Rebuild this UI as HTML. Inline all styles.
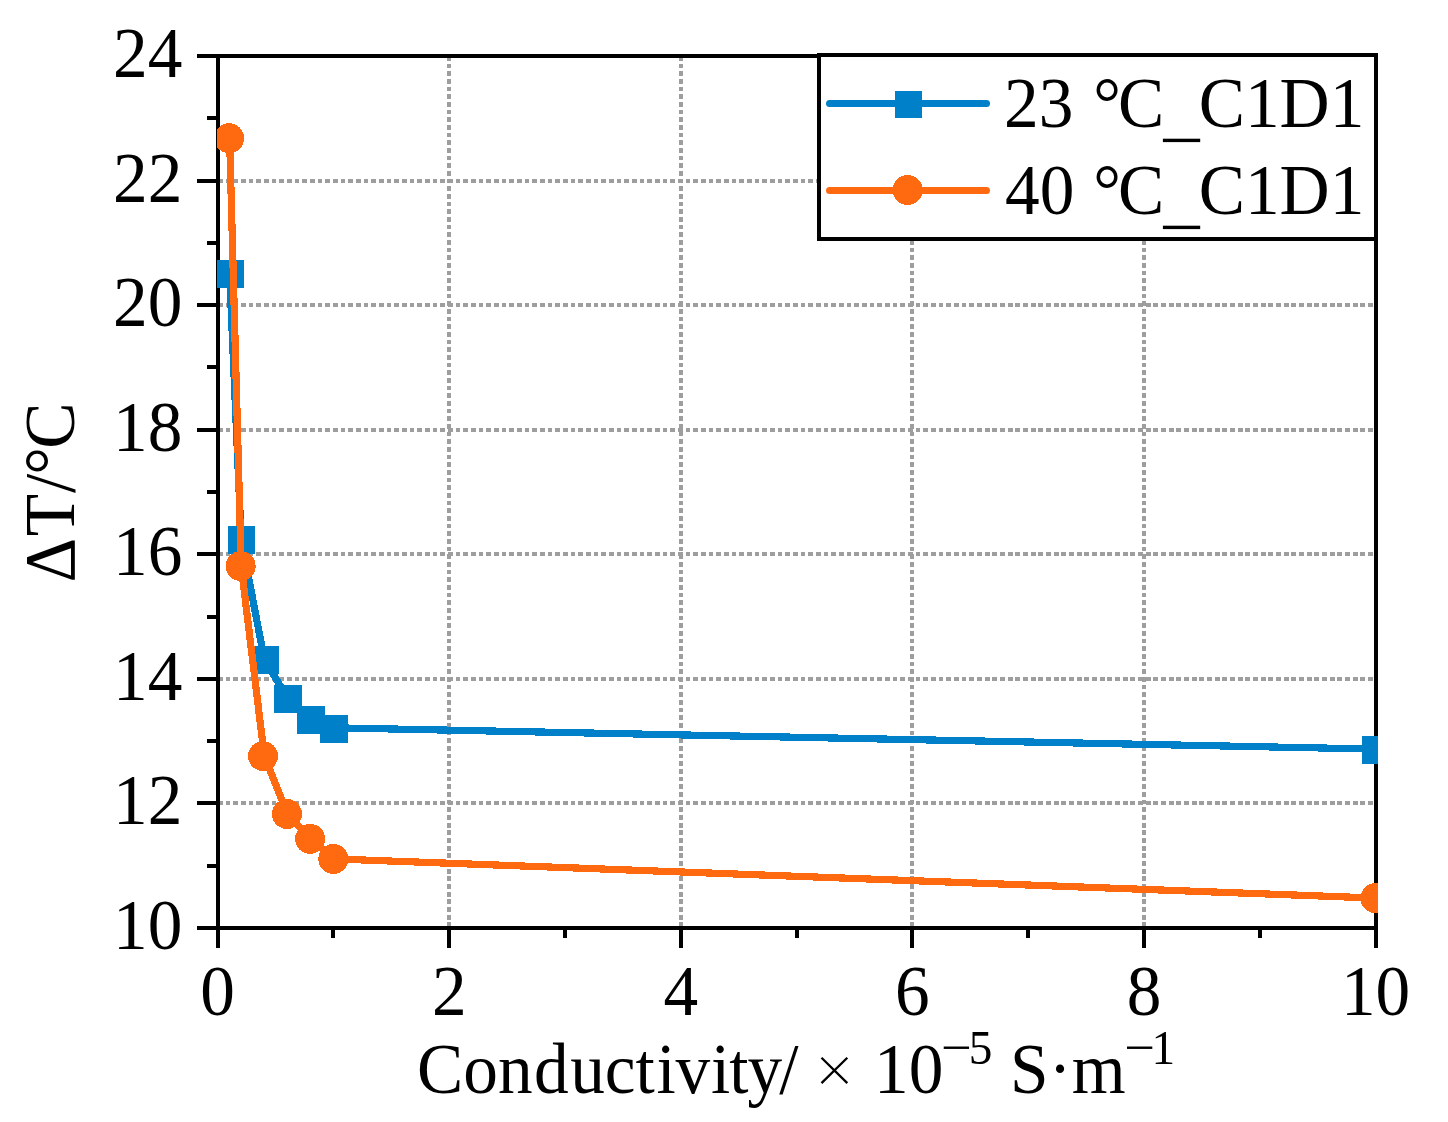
<!DOCTYPE html>
<html><head><meta charset="utf-8"><title>chart</title><style>html,body{margin:0;padding:0;background:#fff;}svg{display:block;}text{font-family:"Liberation Serif",serif;fill:#000;}</style></head><body>
<svg width="1448" height="1122" viewBox="0 0 1448 1122">
<rect x="0" y="0" width="1448" height="1122" fill="#fff"/>
<defs><clipPath id="pc"><rect x="217" y="50" width="1161" height="884"/></clipPath></defs>
<g stroke="#9e9e9e" stroke-width="4" stroke-dasharray="4.8 2.867" fill="none" shape-rendering="crispEdges">
<path d="M449 56V928"/>
<path d="M681 56V928"/>
<path d="M912 56V928"/>
<path d="M1144 56V928"/>
<path d="M218 803H1376"/>
<path d="M218 679H1376"/>
<path d="M218 554H1376"/>
<path d="M218 430H1376"/>
<path d="M218 305H1376"/>
<path d="M218 181H1376"/>
</g>
<g fill="#000" shape-rendering="crispEdges">
<rect x="216" y="54" width="1162" height="4"/>
<rect x="216" y="926" width="1162" height="4"/>
<rect x="216" y="54" width="4" height="876"/>
<rect x="1374" y="54" width="4" height="876"/>
<rect x="197" y="926" width="20" height="4"/>
<rect x="207" y="864" width="10" height="4"/>
<rect x="197" y="801" width="20" height="4"/>
<rect x="207" y="739" width="10" height="4"/>
<rect x="197" y="677" width="20" height="4"/>
<rect x="207" y="615" width="10" height="4"/>
<rect x="197" y="552" width="20" height="4"/>
<rect x="207" y="490" width="10" height="4"/>
<rect x="197" y="428" width="20" height="4"/>
<rect x="207" y="365" width="10" height="4"/>
<rect x="197" y="303" width="20" height="4"/>
<rect x="207" y="241" width="10" height="4"/>
<rect x="197" y="179" width="20" height="4"/>
<rect x="207" y="116" width="10" height="4"/>
<rect x="197" y="54" width="20" height="4"/>
<rect x="216" y="929" width="4" height="19"/>
<rect x="331" y="929" width="4" height="9"/>
<rect x="447" y="929" width="4" height="19"/>
<rect x="563" y="929" width="4" height="9"/>
<rect x="679" y="929" width="4" height="19"/>
<rect x="795" y="929" width="4" height="9"/>
<rect x="910" y="929" width="4" height="19"/>
<rect x="1026" y="929" width="4" height="9"/>
<rect x="1142" y="929" width="4" height="19"/>
<rect x="1258" y="929" width="4" height="9"/>
<rect x="1374" y="929" width="4" height="19"/>
</g>
<g clip-path="url(#pc)" shape-rendering="crispEdges">
<polyline transform="translate(0 -0.9)" points="229.6,274.0 241.2,540.0 264.3,660.2 287.5,698.8 310.6,720.0 333.8,728.7 1376.0,750.0" fill="none" stroke="#0080c8" stroke-width="7.2" stroke-linejoin="round"/>
<rect x="216.0" y="260.1" width="27.8" height="27.8" fill="#0080c8"/>
<rect x="227.6" y="526.1" width="27.8" height="27.8" fill="#0080c8"/>
<rect x="250.7" y="646.3" width="27.8" height="27.8" fill="#0080c8"/>
<rect x="273.9" y="684.9" width="27.8" height="27.8" fill="#0080c8"/>
<rect x="297.0" y="706.1" width="27.8" height="27.8" fill="#0080c8"/>
<rect x="320.2" y="714.8" width="27.8" height="27.8" fill="#0080c8"/>
<rect x="1362.4" y="736.1" width="27.8" height="27.8" fill="#0080c8"/>
<polyline points="229.6,138.2 241.2,566.1 264.3,756.1 287.5,814.0 310.6,838.9 333.8,858.9 1376.0,898.1" fill="none" stroke="#ff6a10" stroke-width="7.2" stroke-linejoin="round"/>
<circle cx="229.1" cy="138.2" r="15" fill="#ff6a10"/>
<circle cx="240.7" cy="566.1" r="15" fill="#ff6a10"/>
<circle cx="263.0" cy="756.1" r="15" fill="#ff6a10"/>
<circle cx="287.0" cy="814.0" r="15" fill="#ff6a10"/>
<circle cx="310.1" cy="838.9" r="15" fill="#ff6a10"/>
<circle cx="333.3" cy="858.9" r="15" fill="#ff6a10"/>
<circle cx="1375.5" cy="898.1" r="15" fill="#ff6a10"/>
</g>
<text transform="translate(182.3 949.0) scale(0.955 1)" font-size="72.6" text-anchor="end">10</text>
<text transform="translate(182.3 824.0) scale(0.955 1)" font-size="72.6" text-anchor="end">12</text>
<text transform="translate(182.3 700.0) scale(0.955 1)" font-size="72.6" text-anchor="end">14</text>
<text transform="translate(182.3 575.0) scale(0.955 1)" font-size="72.6" text-anchor="end">16</text>
<text transform="translate(182.3 451.0) scale(0.955 1)" font-size="72.6" text-anchor="end">18</text>
<text transform="translate(182.3 326.0) scale(0.955 1)" font-size="72.6" text-anchor="end">20</text>
<text transform="translate(182.3 202.0) scale(0.955 1)" font-size="72.6" text-anchor="end">22</text>
<text transform="translate(182.3 77.0) scale(0.955 1)" font-size="72.6" text-anchor="end">24</text>
<text transform="translate(217.6 1015.3) scale(0.955 1)" font-size="72.6" text-anchor="middle">0</text>
<text transform="translate(449.2 1015.3) scale(0.955 1)" font-size="72.6" text-anchor="middle">2</text>
<text transform="translate(680.8 1015.3) scale(0.955 1)" font-size="72.6" text-anchor="middle">4</text>
<text transform="translate(912.4 1015.3) scale(0.955 1)" font-size="72.6" text-anchor="middle">6</text>
<text transform="translate(1144.0 1015.3) scale(0.955 1)" font-size="72.6" text-anchor="middle">8</text>
<text transform="translate(1375.6 1015.3) scale(0.955 1)" font-size="72.6" text-anchor="middle">10</text>
<text transform="translate(74.1 492.5) rotate(-90) scale(0.955 1)" font-size="72.6" text-anchor="middle">Δ<tspan dx="1.9">T</tspan><tspan dx="0.75">/</tspan><tspan dx="-0.95">°</tspan><tspan dx="-1.7">C</tspan></text>
<text transform="translate(417.1 1092.8) scale(0.955 1)" font-size="72.6" text-anchor="start">Con<tspan dx="1.5">d</tspan><tspan dx="1.5">u</tspan>ct<tspan dx="1.8">i</tspan><tspan dx="-0.3">v</tspan><tspan dx="0.8">i</tspan><tspan dx="-1">t</tspan><tspan dx="-1.2">y</tspan><tspan dx="-3">/</tspan></text>
<path d="M821.5 1057.8L847.3 1083.1M847.3 1057.8L821.5 1083.1" stroke="#000" stroke-width="2.3" fill="none"/>
<text transform="translate(874.0 1092.8) scale(0.955 1)" font-size="72.6" text-anchor="start">10</text>
<text transform="translate(941.3 1064.3) scale(1.1 1)" font-size="49.5" text-anchor="start">−</text>
<text transform="translate(968.8 1064.3) scale(0.955 1)" font-size="49.5" text-anchor="start">5</text>
<text transform="translate(1010.0 1092.8) scale(0.955 1)" font-size="72.6" text-anchor="start">S·m</text>
<text transform="translate(1124.6 1064.3) scale(1.1 1)" font-size="49.5" text-anchor="start">−</text>
<text transform="translate(1151.5 1064.3) scale(0.955 1)" font-size="49.5" text-anchor="start">1</text>
<rect x="819" y="55" width="557" height="184" fill="#fff" stroke="#000" stroke-width="4" shape-rendering="crispEdges"/>
<path d="M829.5 103.5H986.5" stroke="#0080c8" stroke-width="7" stroke-linecap="round"/>
<rect x="895" y="91" width="27" height="27" fill="#0080c8" shape-rendering="crispEdges"/>
<path d="M829.5 190.5H986.5" stroke="#ff6a10" stroke-width="7" stroke-linecap="round"/>
<circle cx="907.6" cy="190" r="15" fill="#ff6a10" shape-rendering="crispEdges"/>
<text transform="translate(1004.0 127.1) scale(0.955 1)" font-size="72.6" text-anchor="start">23</text>
<text transform="translate(1093.2 127.1) scale(0.955 1)" font-size="72.6" text-anchor="start">°</text>
<text transform="translate(1118.0 127.1) scale(0.955 1)" font-size="72.6" text-anchor="start">C</text>
<rect x="1162.9" y="138.7" width="37.3" height="3.4" fill="#000"/>
<text transform="translate(1198.7 127.1) scale(0.955 1)" font-size="72.6" text-anchor="start">C1D1</text>
<text transform="translate(1005.0 214.1) scale(0.955 1)" font-size="72.6" text-anchor="start">40</text>
<text transform="translate(1093.2 214.1) scale(0.955 1)" font-size="72.6" text-anchor="start">°</text>
<text transform="translate(1118.0 214.1) scale(0.955 1)" font-size="72.6" text-anchor="start">C</text>
<rect x="1162.9" y="225.7" width="37.3" height="3.4" fill="#000"/>
<text transform="translate(1198.7 214.1) scale(0.955 1)" font-size="72.6" text-anchor="start">C1D1</text>
</svg></body></html>
